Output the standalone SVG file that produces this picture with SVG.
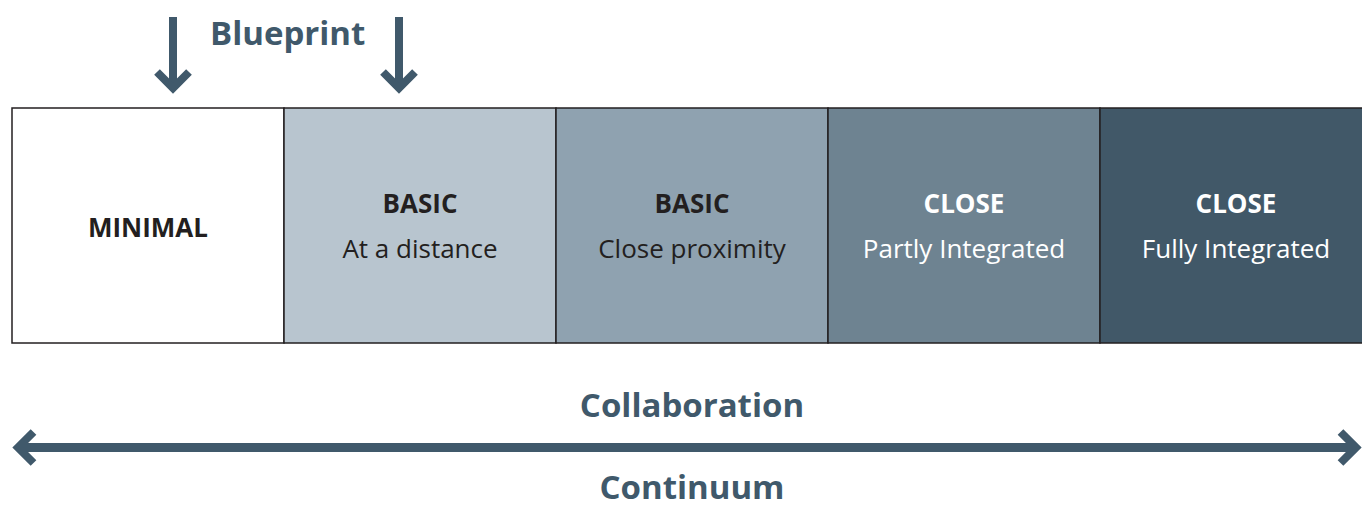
<svg xmlns="http://www.w3.org/2000/svg" width="1362" height="509" viewBox="0 0 1362 509">
<style>
.box{stroke:#231f20;stroke-width:1.5}
.b{font-family:"Open Sans","Liberation Sans",sans-serif;font-weight:bold;font-size:26px;text-anchor:middle}
.r{font-family:"Open Sans","Liberation Sans",sans-serif;font-size:26px;text-anchor:middle}
.dk{fill:#231f20}
.wt{fill:#ffffff}
.big{font-family:"Open Sans","Liberation Sans",sans-serif;font-weight:bold;font-size:33px;fill:#40596b}
.arr{stroke:#40596b;fill:none;stroke-linejoin:miter;stroke-linecap:butt}
</style>
<rect width="1362" height="509" fill="#ffffff"/>
<g id="blueprint">
<text class="big" x="210" y="45">Blueprint</text>
</g>
<g id="minimal">
<rect class="box" x="12" y="108" width="272" height="235" fill="#ffffff"/>
<text class="b dk" x="148" y="237">MINIMAL</text>
</g>
<g id="basic-distance">
<rect class="box" x="284" y="108" width="272" height="235" fill="#b8c5cf"/>
<text class="b dk" x="420" y="213">BASIC</text>
<text class="r dk" x="420" y="258">At a distance</text>
</g>
<g id="basic-proximity">
<rect class="box" x="556" y="108" width="272" height="235" fill="#8fa2b0"/>
<text class="b dk" x="692" y="213">BASIC</text>
<text class="r dk" x="692" y="258">Close proximity</text>
</g>
<g id="close-partly">
<rect class="box" x="828" y="108" width="272" height="235" fill="#6e8391"/>
<text class="b wt" x="964" y="213">CLOSE</text>
<text class="r wt" x="964" y="258">Partly Integrated</text>
</g>
<g id="close-fully">
<rect class="box" x="1100" y="108" width="272" height="235" fill="#415868"/>
<text class="b wt" x="1236" y="213">CLOSE</text>
<text class="r wt" x="1236" y="258">Fully Integrated</text>
</g>
<g id="continuum-label">
<text class="big" x="692" y="417" text-anchor="middle">Collaboration</text>
<text class="big" x="692" y="499" text-anchor="middle">Continuum</text>
</g>
<g id="connectors">
<line class="arr" x1="173" y1="17" x2="173" y2="88" stroke-width="8"/>
<polyline class="arr" points="157,72 173,88 189,72" stroke-width="8"/>
<line class="arr" x1="399" y1="17" x2="399" y2="88" stroke-width="8"/>
<polyline class="arr" points="383,72 399,88 415,72" stroke-width="8"/>
<line class="arr" x1="18" y1="447.5" x2="1356" y2="447.5" stroke-width="9"/>
<polyline class="arr" points="33.5,432 18,447.5 33.5,463" stroke-width="8"/>
<polyline class="arr" points="1340.5,432 1356,447.5 1340.5,463" stroke-width="8"/>
</g>
</svg>
